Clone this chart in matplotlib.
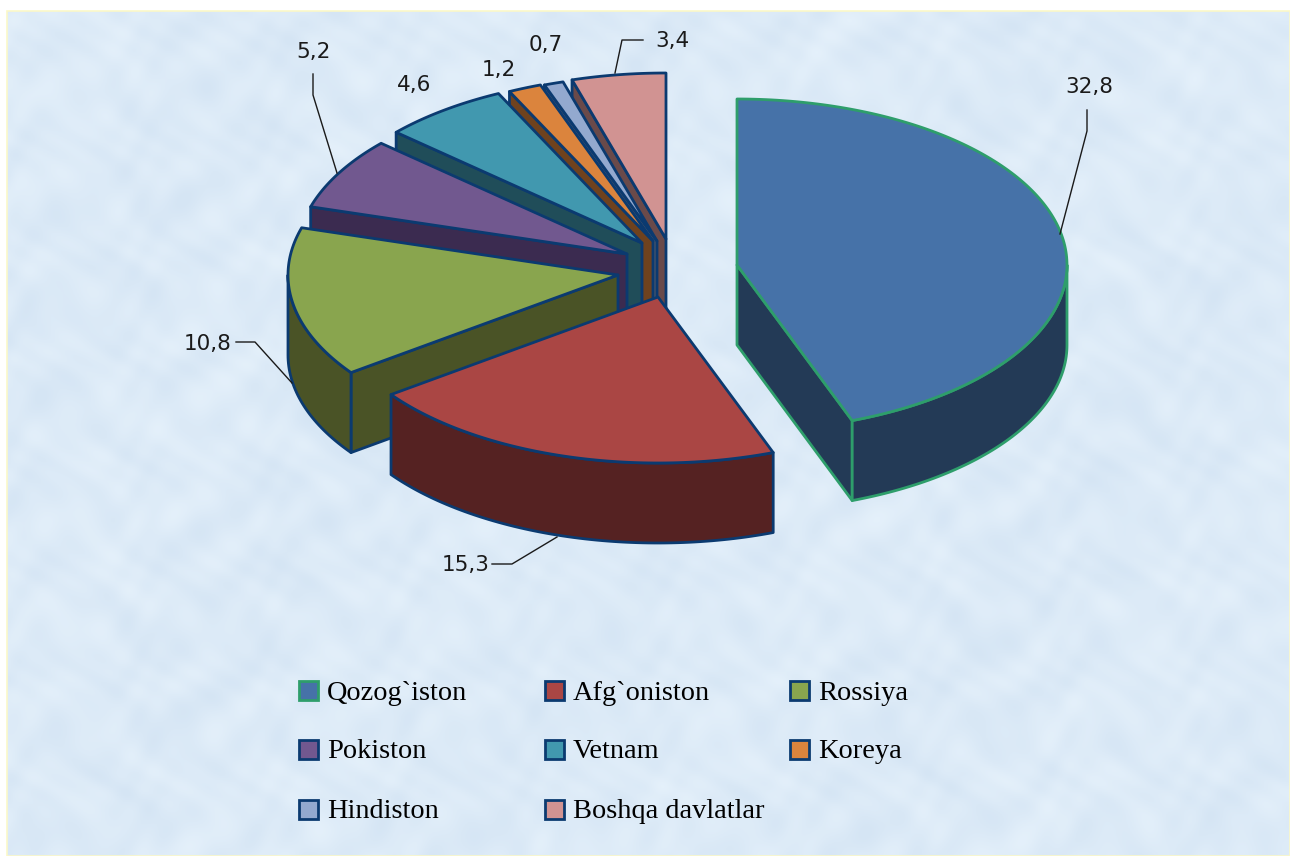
import matplotlib
matplotlib.use("Agg")
import matplotlib.pyplot as plt
import numpy as np
from matplotlib.patches import Polygon, Rectangle

countries = ["Qozog`iston", "Afg`oniston", "Rossiya", "Pokiston",
             "Vetnam", "Koreya", "Hindiston", "Boshqa davlatlar"]
values = [32.8, 15.3, 10.8, 5.2, 4.6, 1.2, 0.7, 3.4]
value_labels = ["32,8", "15,3", "10,8", "5,2", "4,6", "1,2", "0,7", "3,4"]

top_colors = ["#4672A8", "#AA4644", "#89A54E", "#71588F",
              "#4198AF", "#DB843D", "#93A9CF", "#D19392"]
side_colors = ["#233A56", "#552222", "#4A5326", "#3B2B50",
               "#204D59", "#6F421E", "#4A556A", "#6A4A4A"]
edge_colors = ["#2E9E6B"] + ["#0B3A70"]*7

# layout in pixels
centers = [(737, 265), (658, 297), (618, 275), (627, 254),
           (642, 243), (653, 241), (657, 241), (666, 239)]
RX = 330
RY = 166
DEPTH = 80

label_pos = [(1089, 87), (466, 565), (208, 344), (313, 52),
             (414, 85), (499, 70), (546, 45), (672, 41)]
leaders = {
    0: [(1087, 110), (1087, 131), (1060, 234)],
    1: [(492, 564), (512, 564), (557, 537)],
    2: [(236, 342), (255, 342), (292, 383)],
    3: [(313, 74), (313, 95), (337, 173)],
    7: [(643, 40), (622, 40), (615, 73)],
}
legend_x = [299, 545, 790]
legend_y = [690, 749, 809]


def rim(cx, cy, a1, a2):
    a = np.linspace(a1, a2, max(int(np.degrees(a2-a1)), 2)+1)
    return np.column_stack((cx+RX*np.sin(a), cy-RY*np.cos(a)))


fig = plt.figure(figsize=(12.9, 8.56), dpi=100)
ax = fig.add_axes([0, 0, 1, 1])
ax.axis("off")

# soft mottled backdrop
yy, xx = np.mgrid[0:845:423j, 0:1283:642j]
tex = (np.sin(xx/19+np.sin(yy/27)*3)+np.sin(yy/14+np.sin(xx/33)*3)
       + 0.8*np.sin((xx+yy)/9+np.sin(xx/21)*2)+0.8*np.sin((xx-yy)/7+np.cos(yy/17)*2)
       + 0.6*np.sin(xx/61+yy/83))
tex = tex/np.abs(tex).max()
bg = np.dstack((0.865+0.03*tex, 0.92+0.022*tex, 0.97+0.012*tex))
ax.imshow(bg, extent=(7, 1290, 856, 11), aspect="auto", zorder=0)
ax.add_patch(Rectangle((7, 11), 1283, 845, fill=False, ec="#FBF8C8", lw=1.2, zorder=1))
ax.set_xlim(0, 1290)
ax.set_ylim(856, 0)

angles = np.cumsum([0]+values)/sum(values)*2*np.pi

z = 2
for i in [7, 6, 5, 4, 3, 2, 1, 0]:
    cx, cy = centers[i]
    a1, a2 = angles[i], angles[i+1]
    style = dict(ec=edge_colors[i], lw=2, joinstyle="round")

    faces = []
    if np.sin(a1) < -1e-6:
        faces.append(a1)
    if np.sin(a2) > 1e-6:
        faces.append(a2)
    for a in faces:
        p = (cx+RX*np.sin(a), cy-RY*np.cos(a))
        pts = [(cx, cy), p, (p[0], p[1]+DEPTH), (cx, cy+DEPTH)]
        ax.add_patch(Polygon(pts, fc=side_colors[i], zorder=z, **style))
        z += 1

    v1, v2 = max(a1, np.pi/2), min(a2, 3*np.pi/2)
    if v2 > v1:
        arc = rim(cx, cy, v1, v2)
        low = arc[::-1]+[0, DEPTH]
        ax.add_patch(Polygon(np.vstack((arc, low)), fc=side_colors[i], zorder=z, **style))
        z += 1

    top = np.vstack(([(cx, cy)], rim(cx, cy, a1, a2)))
    ax.add_patch(Polygon(top, fc=top_colors[i], zorder=z, **style))
    z += 1

for i, pts in leaders.items():
    ax.plot(*zip(*pts), color="#1A1A1A", lw=1, zorder=z)

for lab, (x, y) in zip(value_labels, label_pos):
    ax.text(x, y, lab, ha="center", va="center", fontsize=15.5,
            family="DejaVu Sans", color="#1A1A1A", zorder=z+1)

for i, name in enumerate(countries):
    x = legend_x[i % 3]
    y = legend_y[i//3]
    ax.add_patch(Rectangle((x, y-9), 19, 19, fc=top_colors[i], ec=edge_colors[i], lw=2, zorder=z))
    ax.text(x+28, y+3, name, ha="left", va="center", fontsize=20.4,
            family="Liberation Serif", color="black", zorder=z)

fig.savefig("out.png", dpi=100, facecolor="white")
